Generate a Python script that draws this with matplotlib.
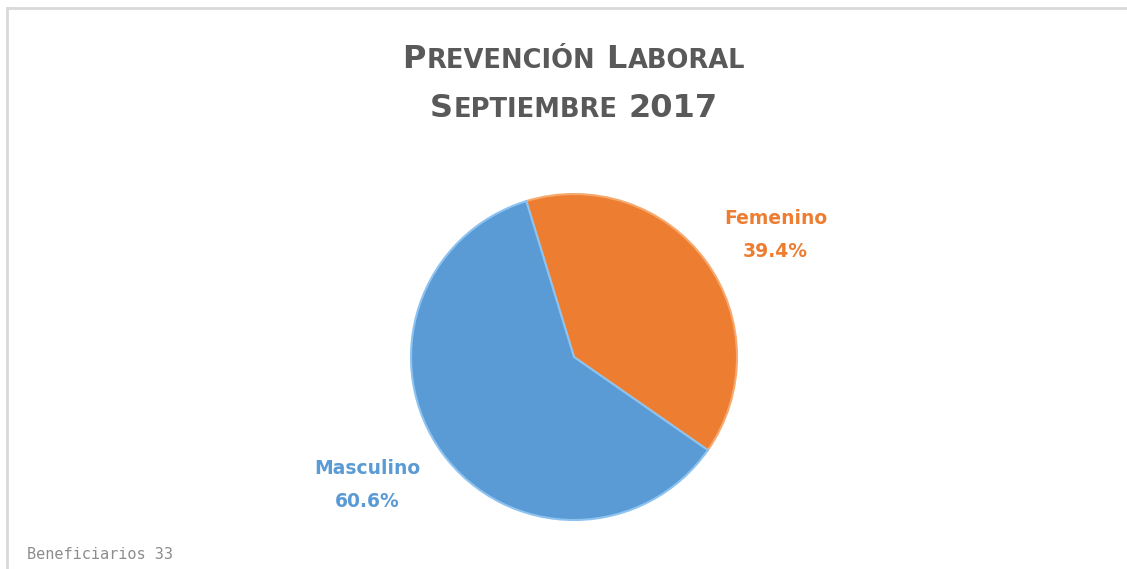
import numpy as np
import matplotlib.pyplot as plt
from matplotlib.lines import Line2D

# Datos
categorias = ['Femenino', 'Masculino']
beneficiarios = [13, 20]
colores = ['#ED7D31', '#5B9BD5']
bordes = ['#F6A96E', '#8DC3F0']
titulo_1 = [('P', True), ('REVENCIÓN', False), (' ', False), ('L', True), ('ABORAL', False)]
titulo_2 = [('S', True), ('EPTIEMBRE', False), (' ', False), ('2017', True)]

W, H = 1127, 569
fig = plt.figure(figsize=(W / 100, H / 100), dpi=100)
fig.patch.set_facecolor('white')

# Marco del gráfico
fig.add_artist(Line2D([7 / W, 1], [1 - 8 / H, 1 - 8 / H], color='#D9D9D9', lw=2))
fig.add_artist(Line2D([7 / W, 7 / W], [0, 1 - 8 / H], color='#D9D9D9', lw=2))

# Pastel
cx, cy, r = 574, 357, 163
lim = 1.05
ax = fig.add_axes([(cx - r * lim) / W, (H - cy - r * lim) / H, 2 * r * lim / W, 2 * r * lim / H])
wedges, _ = ax.pie(beneficiarios, colors=colores, startangle=107, counterclock=False,
                   radius=1, wedgeprops=dict(linewidth=1.5))
for w, b in zip(wedges, bordes):
    w.set_edgecolor(b)
ax.set_xlim(-lim, lim)
ax.set_ylim(-lim, lim)
ax.set_aspect('equal')
ax.axis('off')

# Etiquetas
total = sum(beneficiarios)
pos_etiquetas = [(775.5, 224), (367.5, 474)]
for cat, val, col, (x, y) in zip(categorias, beneficiarios, colores, pos_etiquetas):
    fig.text(x / W, 1 - y / H, cat, ha='center', va='baseline', color=col,
             fontsize=13.5, fontweight='bold', family='DejaVu Sans')
    fig.text(x / W, 1 - (y + 33) / H, f'{val / total * 100:.1f}%', ha='center', va='baseline',
             color=col, fontsize=13.5, fontweight='bold', family='DejaVu Sans')


# Título en versalitas
def versalitas(piezas, y_base, grande, chica):
    textos = []
    for s, es_grande in piezas:
        t = fig.text(0, 1 - y_base / H, s, fontsize=grande if es_grande else chica,
                     fontweight='bold', color='#595959', family='DejaVu Sans',
                     ha='left', va='baseline')
        textos.append(t)
    fig.canvas.draw()
    rend = fig.canvas.get_renderer()
    anchos = []
    for (s, _), t in zip(piezas, textos):
        if s == ' ':
            anchos.append(10)
        else:
            anchos.append(t.get_window_extent(rend).width + 1)
    x = 574 - sum(anchos) / 2
    for t, a in zip(textos, anchos):
        t.set_x(x / W)
        x += a


versalitas(titulo_1, 68, 23, 18.5)
versalitas(titulo_2, 117, 23, 18.5)

fig.text(27 / W, 1 - 559 / H, f'Beneficiarios {total}', ha='left', va='baseline',
         color='#8C8C8C', fontsize=11, family='DejaVu Sans Mono')

fig.savefig('out.png', dpi=100)
